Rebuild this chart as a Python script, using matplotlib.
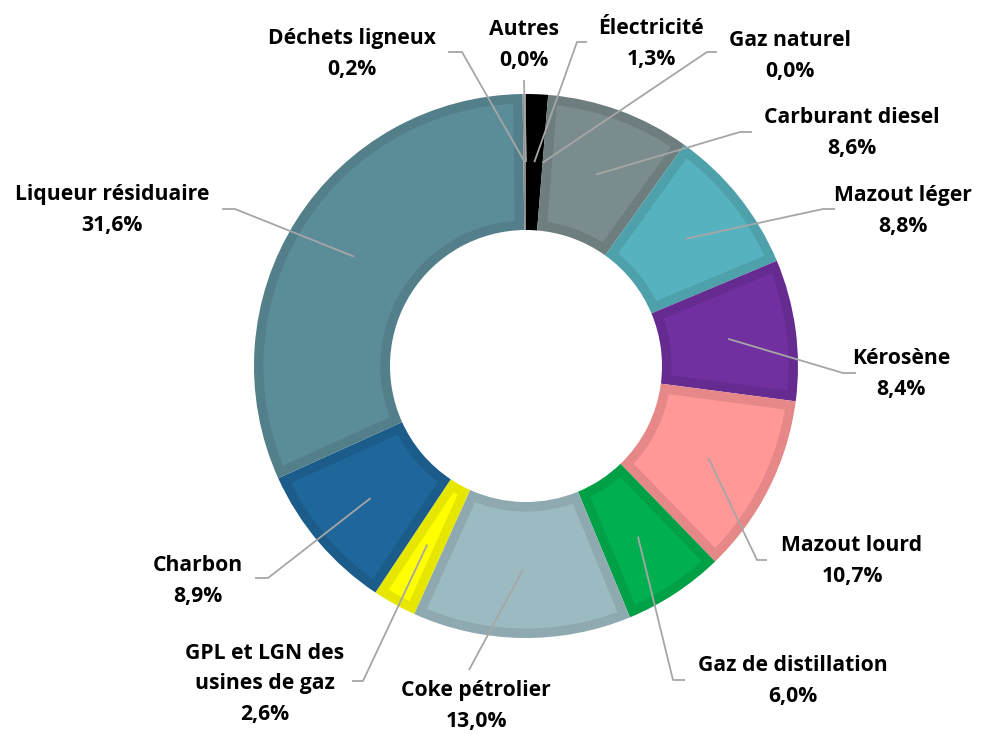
import matplotlib
matplotlib.use("Agg")
import matplotlib.pyplot as plt
from matplotlib.patches import Polygon
import numpy as np

# ---- data ----
categories = ["Autres", "Électricité", "Gaz naturel", "Carburant diesel", "Mazout léger",
              "Kérosène", "Mazout lourd", "Gaz de distillation", "Coke pétrolier",
              "GPL et LGN des\nusines de gaz", "Charbon", "Liqueur résiduaire", "Déchets ligneux"]
values = [0.0, 1.3, 0.0, 8.6, 8.8, 8.4, 10.7, 6.0, 13.0, 2.6, 8.9, 31.6, 0.2]
pct_labels = ["0,0%", "1,3%", "0,0%", "8,6%", "8,8%", "8,4%", "10,7%", "6,0%", "13,0%",
              "2,6%", "8,9%", "31,6%", "0,2%"]

# ---- styles ----
fills = ["#808080", "#000000", "#c0c0c0", "#7a8c8d", "#56b2be", "#7030a0", "#ff9896",
         "#00b050", "#9cbac1", "#ffff00", "#1f669b", "#5b8d99", "#8c8c8c"]
edges = ["#707070", "#000000", "#a0a0a0", "#6e7e7f", "#4ea1ab", "#652b90", "#e68888",
         "#00a046", "#8eaab0", "#e6e600", "#1b5c8b", "#527f8a", "#8c8c8c"]

# label block centres (pixels) and leader elbows / ends (pixels)
label_pos = [(524, 45), (651, 44), (790, 56), (852, 133), (903, 211), (901, 374),
             (852, 561), (793, 681), (476, 706), (265, 684), (198, 581), (112, 210), (352, 54)]
elbow = [(524, 80), (577, 42), (707, 52), (740, 132), (823, 209), (843, 373),
         (757, 560), (673, 680), (469, 670), (363, 681), (268, 578), (235, 209), (462, 52)]
endpt = [(524, 80), (587, 42), (717, 52), (752, 132), (835, 209), (856, 373),
         (767, 560), (685, 680), (469, 670), (352, 681), (255, 578), (222, 209), (448, 52)]

W, H = 992, 735
fig = plt.figure(figsize=(W / 100, H / 100), dpi=100)
ax = fig.add_axes([0, 0, 1, 1])

cx, cy = 526, 366
R, width = 272, 136
b = 9.5  # border thickness (px)

wedges, _ = ax.pie(values, colors=edges, startangle=270, counterclock=True,
                   center=(cx, cy), radius=R, frame=True,
                   wedgeprops=dict(width=width, linewidth=0))
ax.set_xlim(0, W)
ax.set_ylim(H, 0)
ax.set_aspect("equal")
ax.axis("off")


def inset_poly(t1, t2, r_out, r_in, d):
    a1, a2 = np.deg2rad(t1), np.deg2rad(t2)
    ro, ri = r_out - d, r_in + d
    rs = np.linspace(ri, ro, 30)
    side2 = [(r * np.cos(a2 - np.arcsin(d / r)), r * np.sin(a2 - np.arcsin(d / r))) for r in rs]
    ang_o = np.linspace(a2 - np.arcsin(d / ro), a1 + np.arcsin(d / ro), 120)
    outer = [(ro * np.cos(a), ro * np.sin(a)) for a in ang_o]
    side1 = [(r * np.cos(a1 + np.arcsin(d / r)), r * np.sin(a1 + np.arcsin(d / r))) for r in rs[::-1]]
    ang_i = np.linspace(a1 + np.arcsin(d / ri), a2 - np.arcsin(d / ri), 120)
    inner = [(ri * np.cos(a), ri * np.sin(a)) for a in ang_i]
    pts = np.array(side2 + outer + side1 + inner)
    pts[:, 0] += cx
    pts[:, 1] += cy
    return pts


for w, fc, v in zip(wedges, fills, values):
    if v <= 0:
        w.set_visible(False)
        continue
    span = np.deg2rad(w.theta2 - w.theta1)
    if (R - width + b) * np.sin(span / 2) <= b * 1.05:
        w.set_facecolor(fc)
        continue
    ax.add_patch(Polygon(inset_poly(w.theta1, w.theta2, R, R - width, b),
                         closed=True, facecolor=fc, edgecolor="none", zorder=w.get_zorder() + 0.1))

rmid = R - width / 2
font = dict(family=["Open Sans", "DejaVu Sans"], fontweight="bold", fontsize=15.2, color="black")
for i, w in enumerate(wedges):
    th = np.deg2rad((w.theta1 + w.theta2) / 2)
    ax_ = cx + rmid * np.cos(th)
    ay_ = cy + rmid * np.sin(th)
    xs = [ax_, elbow[i][0], endpt[i][0]]
    ys = [ay_, elbow[i][1], endpt[i][1]]
    ax.plot(xs, ys, color="#a6a6a6", lw=1.3, zorder=5, solid_capstyle="butt")
    ax.text(label_pos[i][0], label_pos[i][1], categories[i] + "\n" + pct_labels[i],
            ha="center", va="center", multialignment="center", linespacing=1.6, zorder=6, **font)

fig.savefig("out.png", dpi=100, facecolor="white")
